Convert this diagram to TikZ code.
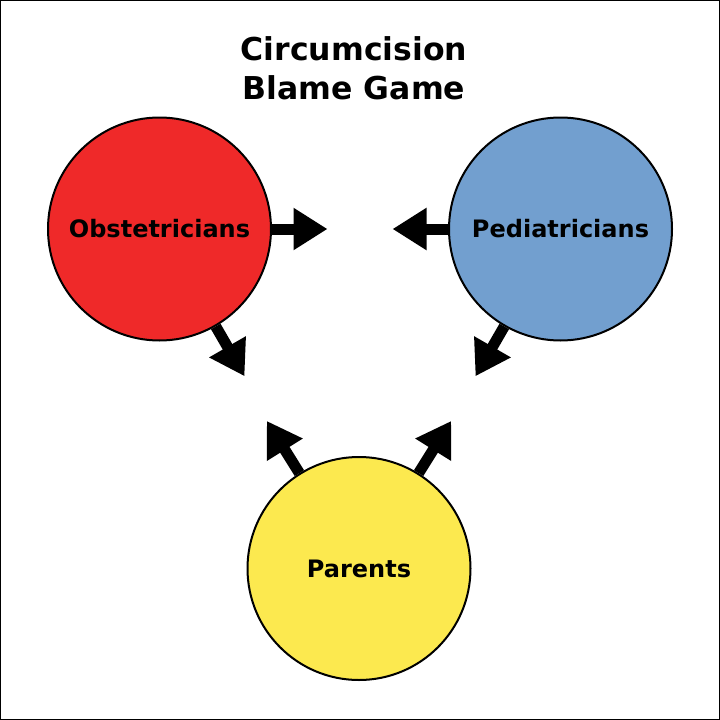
\documentclass[tikz,border=0pt]{standalone}
\usepackage{fontspec}
\setmainfont{DejaVu Sans}
\usetikzlibrary{arrows.meta, positioning}
\definecolor{scarlet}{HTML}{EF2929}
\definecolor{skyblue}{HTML}{729FCF}
\definecolor{butter}{HTML}{FCE94F}

\begin{document}
\begin{tikzpicture}[x=1pt, y=-1pt,
    party/.style={circle, draw=black, line width=2pt, minimum size=223pt, inner sep=0pt,
        font=\fontsize{24}{28}\selectfont\bfseries},
    blame/.style={line width=11pt, -{Triangle[length=34pt, width=40pt]}},
    node distance=401pt]
    \useasboundingbox (0,0) rectangle (720,720);
    \draw[line width=1.2pt] (0.6,0.6) rectangle (719.4,719.4);

    \node[font=\fontsize{31.5}{39}\selectfont\bfseries, align=center, anchor=base] (title) at (354,99) {Circumcision\\Blame Game};

    \node[party, fill=scarlet] (obs) at (159.5,229) {Obstetricians};
    \node[party, fill=skyblue] (ped) [right of=obs] {Pediatricians};
    \node[party, fill=butter] (par) at (359,568.5) {Parents};

    % arrow tips
    \path (obs) ++(0:168pt) coordinate (obs-ped)
          (obs) ++(-60:170pt) coordinate (obs-par)
          (ped) ++(180:168pt) coordinate (ped-obs)
          (ped) ++(-120:170pt) coordinate (ped-par)
          (par) ++(122:174pt) coordinate (par-obs)
          (par) ++(58:174pt) coordinate (par-ped);

    \draw[blame] (obs) -- (obs-ped);
    \draw[blame] (obs) -- (obs-par);
    \draw[blame] (ped) -- (ped-obs);
    \draw[blame] (ped) -- (ped-par);
    \draw[blame] (par) -- (par-obs);
    \draw[blame] (par) -- (par-ped);
\end{tikzpicture}
\end{document}
